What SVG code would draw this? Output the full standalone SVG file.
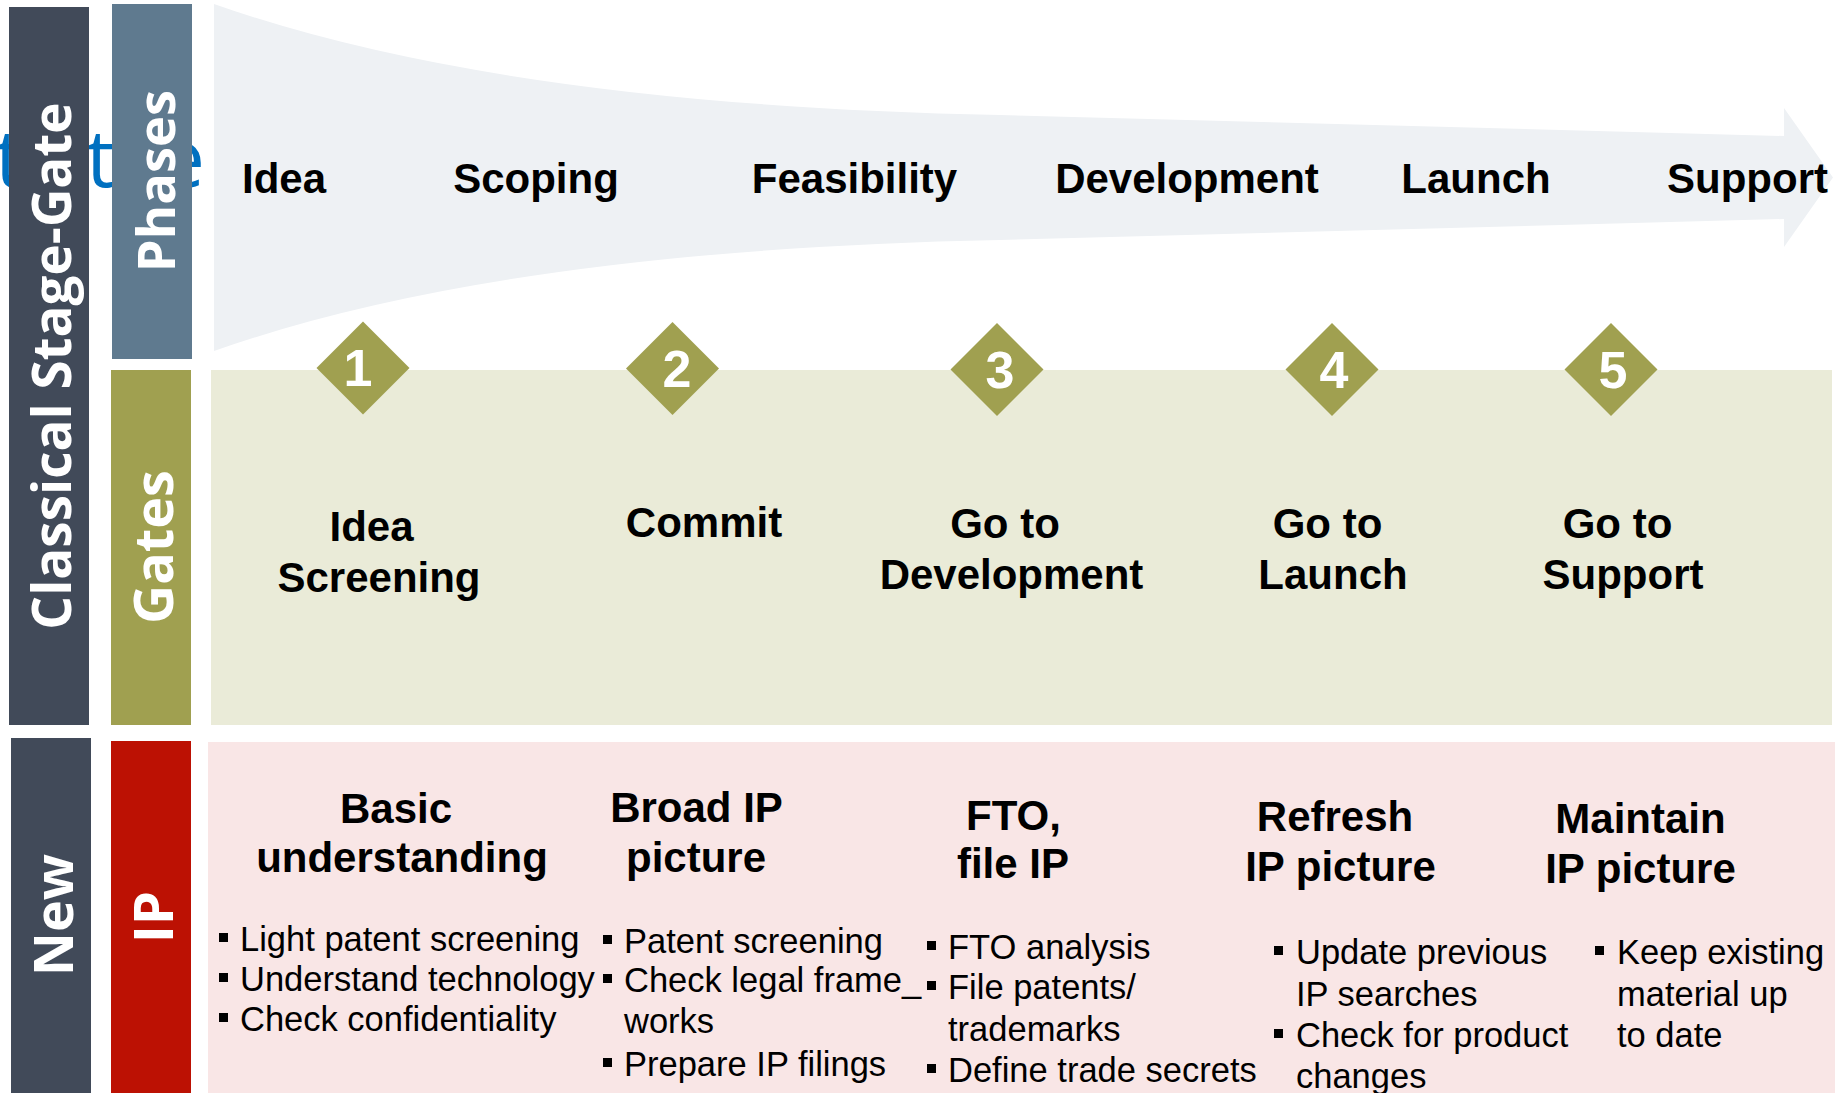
<svg xmlns="http://www.w3.org/2000/svg" width="1835" height="1093" viewBox="0 0 1835 1093">
<style>
.side{font-family:"Open Sans","DejaVu Sans",sans-serif;font-weight:700;font-size:54px;fill:#fff;text-anchor:middle}
.ph{font-family:"Liberation Sans",Arial,sans-serif;font-weight:700;font-size:42px;fill:#000;text-anchor:middle}
.num{font-family:"Liberation Sans",Arial,sans-serif;font-weight:700;font-size:52px;fill:#fff;text-anchor:middle}
.bul{font-family:"Liberation Sans",Arial,sans-serif;font-size:34.5px;fill:#000}
.dia{fill:#A0A050}
</style>
<defs>
<rect id="b" width="9" height="9" fill="#000"/>
</defs>
<rect width="1835" height="1093" fill="#fff"/>
<text y="187" font-family="Open Sans, DejaVu Sans, sans-serif" font-size="80" fill="#0070C0"><tspan x="-5">t</tspan><tspan x="40">i</tspan><tspan x="86">t</tspan><tspan x="125">l</tspan><tspan x="160">e</tspan></text>
<g id="arrow">
<path d="M214,4 Q500,105 1000,115 L1784,136 L1784,108 L1833,177.5 L1784,247 L1784,219 L1000,240 Q500,250 214,351 Z" fill="#EEF1F4"/>
</g>
<g id="phase-labels">
<text class="ph" x="284" y="193">Idea</text>
<text class="ph" x="536" y="193">Scoping</text>
<text class="ph" x="854.5" y="193">Feasibility</text>
<text class="ph" x="1187" y="193">Development</text>
<text class="ph" x="1476" y="193">Launch</text>
<text class="ph" x="1747.5" y="193">Support</text>
</g>
<g id="side-bars">
<g id="classical"><rect x="9" y="7" width="80" height="718" fill="#414A59"/><text class="side" style="font-size:53px" transform="translate(71,366) rotate(-90)">Classical Stage-Gate</text></g>
<g id="phases"><rect x="112" y="4" width="80" height="355" fill="#5F7A8F"/><text class="side" style="font-size:52.5px" transform="translate(175,181) rotate(-90)">Phases</text></g>
<g id="gates"><rect x="111" y="370" width="80" height="355" fill="#A0A050"/><text class="side" transform="translate(173,547) rotate(-90)">Gates</text></g>
<g id="new"><rect x="11" y="738" width="80" height="355" fill="#414A59"/><text class="side" transform="translate(73,915) rotate(-90)">New</text></g>
<g id="ip"><rect x="111" y="741" width="80" height="352" fill="#BC1103"/><text class="side" transform="translate(173,917) rotate(-90)">IP</text></g>
</g>
<g id="gates-panel">
<rect x="211" y="370" width="1621" height="355" fill="#EAEBD8"/>
<g id="gate1"><polygon class="dia" points="363,321.5 409.5,368 363,414.5 316.5,368"/><text class="num" x="358" y="386">1</text>
<text class="ph" x="371.5" y="541">Idea</text><text class="ph" x="379" y="592">Screening</text></g>
<g id="gate2"><polygon class="dia" points="672.5,322 719,368.5 672.5,415 626,368.5"/><text class="num" x="677" y="387">2</text>
<text class="ph" x="704" y="537">Commit</text></g>
<g id="gate3"><polygon class="dia" points="997,323 1043.5,369.5 997,416 950.5,369.5"/><text class="num" x="1000" y="388">3</text>
<text class="ph" x="1005" y="538">Go to</text><text class="ph" x="1011.5" y="589">Development</text></g>
<g id="gate4"><polygon class="dia" points="1332,323 1378.5,369.5 1332,416 1285.5,369.5"/><text class="num" x="1334" y="388">4</text>
<text class="ph" x="1327.5" y="538">Go to</text><text class="ph" x="1333" y="589">Launch</text></g>
<g id="gate5"><polygon class="dia" points="1611,323 1657.5,369.5 1611,416 1564.5,369.5"/><text class="num" x="1613" y="388">5</text>
<text class="ph" x="1617.5" y="538">Go to</text><text class="ph" x="1623" y="589">Support</text></g>
</g>
<g id="ip-panel">
<rect x="208" y="742" width="1627" height="351" fill="#F9E6E6"/>
<g id="ip1"><text class="ph" x="396" y="823">Basic</text><text class="ph" x="402" y="872">understanding</text>
<use href="#b" x="219" y="933"/><text class="bul" x="240" y="951">Light patent screening</text>
<use href="#b" x="219" y="973"/><text class="bul" x="240" y="991">Understand technology</text>
<use href="#b" x="219" y="1013"/><text class="bul" x="240" y="1031">Check confidentiality</text></g>
<g id="ip2"><text class="ph" x="696.5" y="822">Broad IP</text><text class="ph" x="696" y="872">picture</text>
<use href="#b" x="603" y="935"/><text class="bul" x="624" y="953">Patent screening</text>
<use href="#b" x="603" y="974"/><text class="bul" x="624" y="992">Check legal frame_</text>
<text class="bul" x="624" y="1033">works</text>
<use href="#b" x="603" y="1058"/><text class="bul" x="624" y="1076">Prepare IP filings</text></g>
<g id="ip3"><text class="ph" x="1013.5" y="830">FTO,</text><text class="ph" x="1013" y="878">file IP</text>
<use href="#b" x="927" y="941"/><text class="bul" x="948" y="959">FTO analysis</text>
<use href="#b" x="927" y="981"/><text class="bul" x="948" y="999">File patents/</text>
<text class="bul" x="948" y="1041">trademarks</text>
<use href="#b" x="927" y="1064"/><text class="bul" x="948" y="1082">Define trade secrets</text></g>
<g id="ip4"><text class="ph" x="1335" y="831">Refresh</text><text class="ph" x="1340.5" y="881">IP picture</text>
<use href="#b" x="1274" y="946"/><text class="bul" x="1296" y="964">Update previous</text>
<text class="bul" x="1296" y="1006">IP searches</text>
<use href="#b" x="1274" y="1029"/><text class="bul" x="1296" y="1047">Check for product</text>
<text class="bul" x="1296" y="1088">changes</text></g>
<g id="ip5"><text class="ph" x="1640.5" y="833">Maintain</text><text class="ph" x="1640.5" y="883">IP picture</text>
<use href="#b" x="1595" y="946"/><text class="bul" x="1617" y="964">Keep existing</text>
<text class="bul" x="1617" y="1006">material up</text>
<text class="bul" x="1617" y="1047">to date</text></g>
</g>
<g id="connectors"></g>
</svg>
